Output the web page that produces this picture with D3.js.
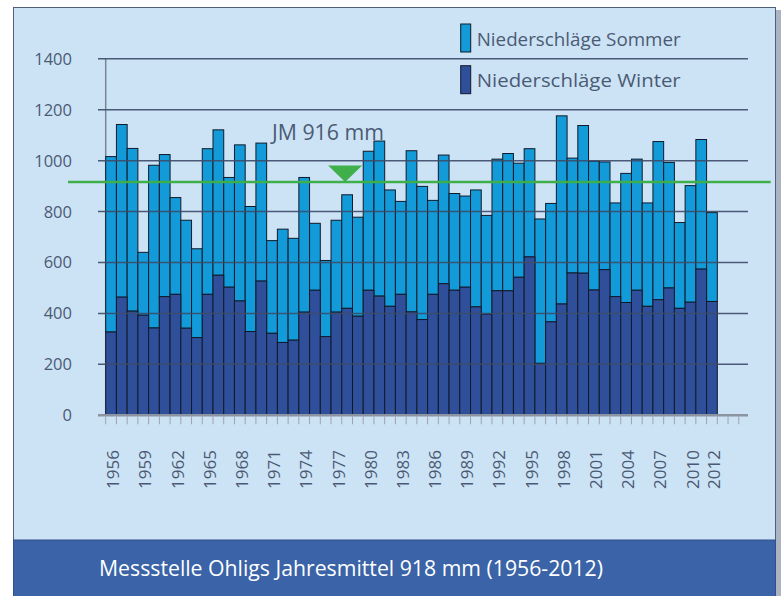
<!DOCTYPE html>
<html>
<head>
<meta charset="utf-8">
<script src="https://cdn.jsdelivr.net/npm/d3@7"></script>
<style>
  html, body { margin: 0; padding: 0; background: #fff; }
  svg { display: block; font-family: "Open Sans", sans-serif; }
</style>
</head>
<body>
<div id="chart"></div>
<script>
// Niederschläge Messstelle Ohligs 1956-2012, Winter + Sommer gestapelt (mm)
const years = d3.range(1956, 2013);
const winter = [327, 464, 409, 393, 343, 466, 475, 342, 305, 475,
  550, 503, 449, 329, 527, 322, 286, 295, 405, 491,
  309, 405, 420, 389, 491, 468, 428, 475, 406, 376,
  475, 517, 491, 503, 426, 397, 489, 489, 542, 622,
  204, 367, 437, 559, 558, 492, 572, 466, 443, 491,
  428, 454, 500, 420, 444, 574, 447];
const total = [1016, 1142, 1048, 640, 982, 1024, 855, 766, 654, 1047,
  1121, 934, 1062, 820, 1069, 686, 731, 695, 934, 754,
  608, 766, 866, 778, 1037, 1077, 885, 840, 1039, 899,
  844, 1022, 871, 861, 885, 785, 1006, 1028, 990, 1047,
  771, 832, 1176, 1010, 1138, 998, 995, 834, 950, 1006,
  834, 1075, 993, 757, 902, 1083, 796];
const sommer = total.map((t, i) => t - winter[i]);
const yTicks = [0, 200, 400, 600, 800, 1000, 1200, 1400];
const xLabels = [1956, 1959, 1962, 1965, 1968, 1971, 1974, 1977, 1980, 1983, 1986,
  1989, 1992, 1995, 1998, 2001, 2004, 2007, 2010, 2012];
const slots = d3.range(1956, 2016); // Achse läuft 3 Jahre weiter
const mean = 916;
const meanLabel = "JM 916 mm";
const legendItems = ["Niederschläge Sommer", "Niederschläge Winter"];
const footer = "Messstelle Ohligs Jahresmittel 918 mm (1956-2012)";

const W = 781, H = 596;
const col = { bg: "#cce3f6", sommer: "#129bd8", winter: "#2f4f9b", banner: "#3a63a8",
  grid: "#3d4c69", axis: "#8c94a2", text: "#4b5a73", green: "#3eaf4a" };

const svg = d3.select("#chart").append("svg").attr("width", W).attr("height", H);

// Rahmen + Fußzeile
svg.append("rect").attr("x", 776).attr("y", 10).attr("width", 5).attr("height", H - 10).attr("fill", "#aab4c3");
svg.append("rect").attr("x", 13.5).attr("y", 7.5).attr("width", 762).attr("height", 533)
  .attr("fill", col.bg).attr("stroke", "#4f5f7c").attr("stroke-width", 1);
svg.append("rect").attr("x", 13.5).attr("y", 540).attr("width", 762).attr("height", 57)
  .attr("fill", col.banner).attr("stroke", "#34508a").attr("stroke-width", 1);
svg.append("text").attr("x", 99).attr("y", 576).attr("fill", "#fff")
  .attr("font-size", 21).attr("textLength", 504).attr("lengthAdjust", "spacingAndGlyphs")
  .text(footer);

const x = d3.scaleBand().domain(slots).range([105.7, 749.5]).padding(0);
const y = d3.scaleLinear().domain([0, 1400]).range([415.3, 58.8]);
const bw = x.bandwidth();

// y-Achse
svg.append("line").attr("x1", x.range()[0]).attr("x2", x.range()[0])
  .attr("y1", y(1400)).attr("y2", y(0)).attr("stroke", "#7d8494").attr("stroke-width", 1.5);

// Balken
const gBars = svg.append("g").attr("stroke", "#111a2a").attr("stroke-width", 1);
gBars.selectAll("rect.s").data(years).join("rect").attr("class", "s")
  .attr("x", (d) => x(d)).attr("width", bw)
  .attr("y", (d, i) => y(total[i])).attr("height", (d, i) => y(winter[i]) - y(total[i]))
  .attr("fill", col.sommer);
gBars.selectAll("rect.w").data(years).join("rect").attr("class", "w")
  .attr("x", (d) => x(d)).attr("width", bw)
  .attr("y", (d, i) => y(winter[i])).attr("height", (d, i) => y(0) - y(winter[i]))
  .attr("fill", col.winter);

// Gitternetz über den Balken
const gx0 = 98, gx1 = 748;
svg.append("g").selectAll("line").data(yTicks.filter((d) => d > 0)).join("line")
  .attr("x1", gx0).attr("x2", gx1).attr("y1", (d) => y(d)).attr("y2", (d) => y(d))
  .attr("stroke", col.grid).attr("stroke-width", 1.5).attr("opacity", 0.9);
svg.append("line").attr("x1", gx0).attr("x2", gx1).attr("y1", y(0)).attr("y2", y(0))
  .attr("stroke", col.axis).attr("stroke-width", 2.5);
svg.append("g").selectAll("line").data(slots).join("line")
  .attr("x1", (d) => x(d)).attr("x2", (d) => x(d)).attr("y1", y(0) + 1).attr("y2", y(0) + 9)
  .attr("stroke", "#9ca3ae").attr("stroke-width", 1);

svg.append("g").selectAll("text").data(yTicks).join("text")
  .attr("x", 72).attr("y", (d) => y(d)).attr("dy", "0.36em").attr("text-anchor", "end")
  .attr("font-size", 16.5).attr("fill", col.text).text((d) => d);

svg.append("g").selectAll("text").data(xLabels).join("text")
  .attr("transform", (d) => `translate(${x(d) + bw / 2 + 2},450) rotate(-90)`)
  .attr("dy", "0.36em").attr("text-anchor", "end")
  .attr("font-size", 17).attr("fill", col.text).text((d) => d);

// Jahresmittel-Linie
const ym = y(mean);
svg.append("line").attr("x1", 68).attr("x2", 770.7).attr("y1", ym).attr("y2", ym)
  .attr("stroke", col.green).attr("stroke-width", 2.5);
const tx = x(1978) + bw / 2 - 2;
svg.append("path").attr("d", `M${tx - 17},${ym - 16.5}L${tx + 17},${ym - 16.5}L${tx},${ym}Z`)
  .attr("fill", col.green);
svg.append("text").attr("x", 272).attr("y", ym - 42).attr("font-size", 21)
  .attr("textLength", 112).attr("lengthAdjust", "spacingAndGlyphs")
  .attr("fill", col.text).text(meanLabel);

// Legende
const lg = svg.append("g").selectAll("g").data(legendItems).join("g")
  .attr("transform", (d, i) => `translate(460.7,${24 + i * 41.7})`);
lg.append("rect").attr("width", 10).attr("height", 28)
  .attr("fill", (d, i) => i === 0 ? col.sommer : col.winter).attr("stroke", "#111a2a");
lg.append("text").attr("x", 16).attr("y", 21.7).attr("font-size", 19)
  .attr("textLength", 204).attr("lengthAdjust", "spacingAndGlyphs")
  .attr("fill", col.text).text((d) => d);
</script>
</body>
</html>
